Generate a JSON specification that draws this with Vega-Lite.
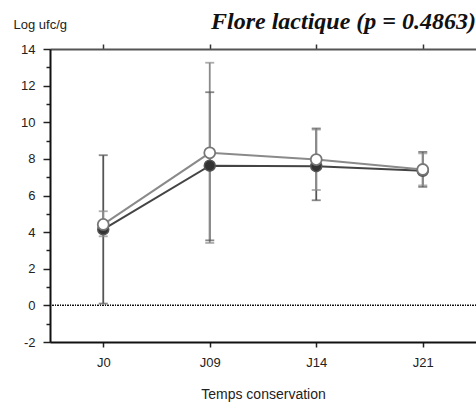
{
  "$schema": "https://vega.github.io/schema/vega-lite/v6.json",
  "width": 426,
  "height": 293,
  "autosize": "none",
  "padding": {"left": 50, "top": 49, "right": 0, "bottom": 60},
  "background": "white",
  "config": {
    "view": {"stroke": "#999", "strokeWidth": 1},
    "font": "Liberation Sans",
    "axis": {"labelOverlap": false}
  },
  "title": {
    "text": "Flore lactique (p = 0.4863)",
    "font": "Liberation Serif",
    "fontSize": 24,
    "fontWeight": "bold",
    "fontStyle": "italic",
    "color": "#111",
    "anchor": "end",
    "frame": "group",
    "baseline": "alphabetic",
    "offset": -35
  },
  "resolve": {"axis": {"x": "independent"}},
  "data": {
    "values": [
      {"day": "J0", "series": "filled", "mean": 4.15, "lo": 0.1, "hi": 8.2},
      {"day": "J09", "series": "filled", "mean": 7.63, "lo": 3.55, "hi": 11.64},
      {"day": "J14", "series": "filled", "mean": 7.6, "lo": 5.74, "hi": 9.66},
      {"day": "J21", "series": "filled", "mean": 7.35, "lo": 6.47, "hi": 8.38},
      {"day": "J0", "series": "open", "mean": 4.42, "lo": 3.77, "hi": 5.14},
      {"day": "J09", "series": "open", "mean": 8.33, "lo": 3.41, "hi": 13.25},
      {"day": "J14", "series": "open", "mean": 7.96, "lo": 6.3, "hi": 9.6},
      {"day": "J21", "series": "open", "mean": 7.42, "lo": 6.55, "hi": 8.3}
    ]
  },
  "encoding": {
    "x": {
      "field": "day",
      "type": "ordinal",
      "scale": {"type": "point", "padding": 0.5},
      "sort": ["J0", "J09", "J14", "J21"],
      "axis": null
    },
    "y": {
      "field": "mean",
      "type": "quantitative",
      "scale": {"domain": [-2, 14], "nice": false, "zero": false},
      "axis": {
        "title": "Log ufc/g",
        "titleAngle": 0,
        "titleAlign": "left",
        "titleBaseline": "middle",
        "titleX": -37,
        "titleY": -25,
        "titleFont": "Liberation Sans",
        "titleFontSize": 13,
        "titleFontWeight": "normal",
        "titleColor": "#222",
        "values": [-2, -1, 0, 1, 2, 3, 4, 5, 6, 7, 8, 9, 10, 11, 12, 13, 14],
        "labelExpr": "datum.value % 2 === 0 ? '' + datum.value : ''",
        "labelOverlap": false,
        "labelFont": "Liberation Sans",
        "labelFontSize": 13,
        "labelColor": "#222",
        "labelPadding": 8,
        "tickSize": {"condition": {"test": "datum.value % 2 === 0", "value": 7}, "value": 4},
        "tickColor": "#222",
        "tickWidth": 1.5,
        "domainColor": "#111",
        "domainWidth": 2,
        "grid": false
      }
    }
  },
  "layer": [
    {
      "mark": {"type": "rule", "color": "#111", "strokeDash": [1, 1.5], "strokeWidth": 1},
      "encoding": {"y": {"datum": 0, "type": "quantitative"}, "x": null}
    },
    {
      "mark": {"type": "rule", "strokeWidth": 1.8},
      "encoding": {
        "x": {
          "field": "day",
          "type": "ordinal",
          "sort": ["J0", "J09", "J14", "J21"],
          "axis": {
            "orient": "bottom",
            "title": "Temps conservation",
            "labelAngle": 0,
            "labelFont": "Liberation Sans",
            "labelFontSize": 13,
            "labelColor": "#222",
            "labelPadding": 9,
            "tickSize": 5,
            "tickColor": "#222",
            "tickWidth": 1.5,
            "domainColor": "#111",
            "domainWidth": 2,
            "titleFont": "Liberation Sans",
            "titleFontSize": 14,
            "titleFontWeight": "normal",
            "titleColor": "#222",
            "titlePadding": 18
          }
        },
        "y": {"field": "lo", "type": "quantitative"},
        "y2": {"field": "hi"},
        "color": {"field": "series", "type": "nominal", "scale": {"domain": ["filled", "open"], "range": ["#555", "#8a8a8a"]}, "legend": null}
      }
    },
    {
      "mark": {"type": "tick", "orient": "horizontal", "size": 9, "thickness": 1.8},
      "encoding": {
        "y": {"field": "lo", "type": "quantitative"},
        "color": {"field": "series", "type": "nominal", "scale": {"domain": ["filled", "open"], "range": ["#555", "#8a8a8a"]}, "legend": null}
      }
    },
    {
      "mark": {"type": "tick", "orient": "horizontal", "size": 9, "thickness": 1.8},
      "encoding": {
        "y": {"field": "hi", "type": "quantitative"},
        "color": {"field": "series", "type": "nominal", "scale": {"domain": ["filled", "open"], "range": ["#555", "#8a8a8a"]}, "legend": null}
      }
    },
    {
      "transform": [{"filter": "datum.series === 'filled'"}],
      "mark": {"type": "line", "color": "#444", "strokeWidth": 2}
    },
    {
      "transform": [{"filter": "datum.series === 'open'"}],
      "mark": {"type": "line", "color": "#8a8a8a", "strokeWidth": 2}
    },
    {
      "transform": [{"filter": "datum.series === 'filled'"}],
      "mark": {"type": "point", "shape": "circle", "filled": true, "fill": "#333", "stroke": "#555", "strokeWidth": 1.5, "opacity": 1, "size": 120}
    },
    {
      "transform": [{"filter": "datum.series === 'open'"}],
      "mark": {"type": "point", "shape": "circle", "filled": true, "fill": "white", "stroke": "#777", "strokeWidth": 1.8, "opacity": 1, "size": 120}
    },
    {
      "mark": {"type": "point", "opacity": 0},
      "encoding": {
        "x": {
          "field": "day",
          "type": "ordinal",
          "sort": ["J0", "J09", "J14", "J21"],
          "axis": {"orient": "top", "labels": false, "title": null, "tickSize": 5, "tickColor": "#333", "tickWidth": 1.5, "domainColor": "#555", "domainWidth": 2}
        }
      }
    }
  ]
}
